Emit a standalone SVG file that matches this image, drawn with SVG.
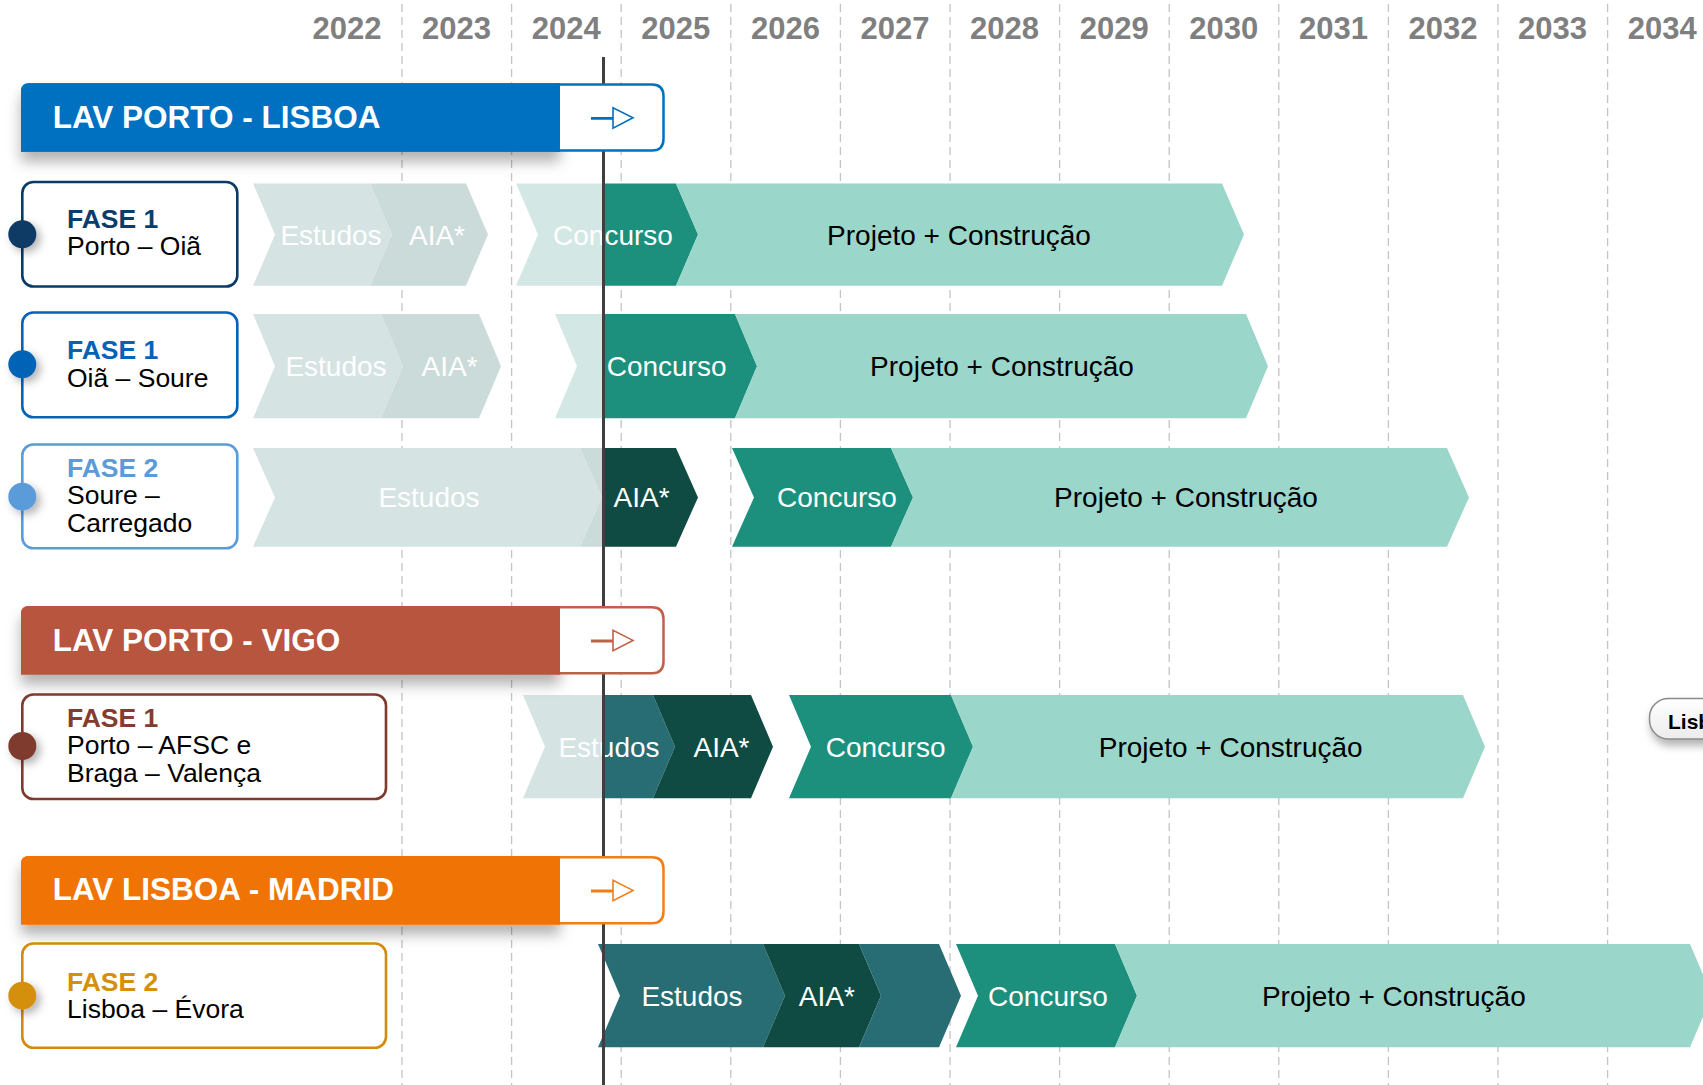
<svg xmlns="http://www.w3.org/2000/svg" width="1703" height="1085" viewBox="0 0 1703 1085">
<style>
text{font-family:"Liberation Sans",Arial,sans-serif}
.yr{font-size:31px;font-weight:bold;fill:#7f7f7f;text-anchor:middle}
.hd{font-size:31.5px;font-weight:bold;fill:#fff}
.fb{font-size:26.5px;font-weight:bold}
.fr{font-size:26.5px;fill:#000}
.cl{font-size:28px;text-anchor:middle;fill:#fff}
.cd{font-size:28px;text-anchor:middle;fill:#000}
.grid{stroke:#c4c4c4;stroke-width:1.3;stroke-dasharray:8 5}
.box{fill:#fff;stroke-width:2.6}
.arr{fill:none;stroke-width:1.6;stroke-linejoin:miter}
.g1{fill:#d5e3e3}.g2{fill:#cbdbda}.gl{fill:#d3e8e5}
.cc{fill:#1c907d}.pj{fill:#9bd6cb}.ai{fill:#0f4b43}.es{fill:#286c74}
</style>
<defs>
<filter id="sh" x="-10%" y="-30%" width="125%" height="190%">
<feDropShadow dx="0" dy="10" stdDeviation="7" flood-color="#000" flood-opacity="0.3"/>
</filter>
<filter id="dsh" x="-60%" y="-60%" width="250%" height="250%">
<feDropShadow dx="4" dy="4" stdDeviation="4" flood-color="#000" flood-opacity="0.3"/>
</filter>
<filter id="psh" x="-20%" y="-30%" width="150%" height="190%">
<feDropShadow dx="2" dy="6" stdDeviation="4" flood-color="#000" flood-opacity="0.3"/>
</filter>
<linearGradient id="pg" x1="0" y1="0" x2="0" y2="1">
<stop offset="0" stop-color="#ffffff"/><stop offset="1" stop-color="#ececec"/>
</linearGradient>
</defs>
<rect width="1703" height="1085" fill="#fff"/>

<g id="years">
<text class="yr" x="347" y="38.5">2022</text>
<text class="yr" x="456.6" y="38.5">2023</text>
<text class="yr" x="566.2" y="38.5">2024</text>
<text class="yr" x="675.8" y="38.5">2025</text>
<text class="yr" x="785.4" y="38.5">2026</text>
<text class="yr" x="895" y="38.5">2027</text>
<text class="yr" x="1004.6" y="38.5">2028</text>
<text class="yr" x="1114.2" y="38.5">2029</text>
<text class="yr" x="1223.8" y="38.5">2030</text>
<text class="yr" x="1333.4" y="38.5">2031</text>
<text class="yr" x="1443" y="38.5">2032</text>
<text class="yr" x="1552.6" y="38.5">2033</text>
<text class="yr" x="1662.2" y="38.5">2034</text>
</g>

<g id="grid">
<line class="grid" x1="402" y1="4" x2="402" y2="1085"/>
<line class="grid" x1="511.6" y1="4" x2="511.6" y2="1085"/>
<line class="grid" x1="621.2" y1="4" x2="621.2" y2="1085"/>
<line class="grid" x1="730.8" y1="4" x2="730.8" y2="1085"/>
<line class="grid" x1="840.4" y1="4" x2="840.4" y2="1085"/>
<line class="grid" x1="950" y1="4" x2="950" y2="1085"/>
<line class="grid" x1="1059.6" y1="4" x2="1059.6" y2="1085"/>
<line class="grid" x1="1169.2" y1="4" x2="1169.2" y2="1085"/>
<line class="grid" x1="1278.8" y1="4" x2="1278.8" y2="1085"/>
<line class="grid" x1="1388.4" y1="4" x2="1388.4" y2="1085"/>
<line class="grid" x1="1498" y1="4" x2="1498" y2="1085"/>
<line class="grid" x1="1607.6" y1="4" x2="1607.6" y2="1085"/>
</g>

<g id="row-porto-oia">
<polygon class="g1" points="253,183.5 370,183.5 392,234.6 370,285.7 253,285.7 275,234.6"/>
<polygon class="g2" points="370,183.5 466,183.5 488,234.6 466,285.7 370,285.7 392,234.6"/>
<polygon class="gl" points="516,183.5 603.5,183.5 603.5,285.7 516,285.7 538,234.6"/>
<polygon class="cc" points="603.5,183.5 676,183.5 698,234.6 676,285.7 603.5,285.7"/>
<polygon class="pj" points="676,183.5 1222,183.5 1244,234.6 1222,285.7 676,285.7 698,234.6"/>
<text class="cl" x="331" y="244.6">Estudos</text>
<text class="cl" x="437" y="244.6">AIA*</text>
<text class="cl" x="613" y="244.6">Concurso</text>
<text class="cd" x="959" y="244.6">Projeto + Construção</text>
</g>

<g id="row-oia-soure">
<polygon class="g1" points="253,314 381,314 403,366.2 381,418.3 253,418.3 275,366.2"/>
<polygon class="g2" points="381,314 479,314 501,366.2 479,418.3 381,418.3 403,366.2"/>
<polygon class="gl" points="555,314 603.5,314 603.5,418.3 555,418.3 577,366.2"/>
<polygon class="cc" points="603.5,314 735,314 757,366.2 735,418.3 603.5,418.3"/>
<polygon class="pj" points="735,314 1246,314 1268,366.2 1246,418.3 735,418.3 757,366.2"/>
<text class="cl" x="336" y="376.2">Estudos</text>
<text class="cl" x="449.6" y="376.2">AIA*</text>
<text class="cl" x="666.6" y="376.2">Concurso</text>
<text class="cd" x="1002" y="376.2">Projeto + Construção</text>
</g>

<g id="row-soure-carregado">
<polygon class="g1" points="253,448 580,448 602,497.4 580,546.7 253,546.7 275,497.4"/>
<polygon class="g2" points="580,448 603.5,448 603.5,546.7 580,546.7 602,497.4"/>
<polygon class="ai" points="603.5,448 676,448 698,497.4 676,546.7 603.5,546.7"/>
<polygon class="cc" points="732,448 891,448 913,497.4 891,546.7 732,546.7 754,497.4"/>
<polygon class="pj" points="891,448 1447,448 1469,497.4 1447,546.7 891,546.7 913,497.4"/>
<text class="cl" x="429" y="507.4">Estudos</text>
<text class="cl" x="641.6" y="507.4">AIA*</text>
<text class="cl" x="837" y="507.4">Concurso</text>
<text class="cd" x="1186" y="507.4">Projeto + Construção</text>
</g>

<g id="row-porto-vigo">
<polygon class="g1" points="523,695 603.5,695 603.5,798.3 523,798.3 545,746.7"/>
<polygon class="es" points="603.5,695 653,695 675,746.7 653,798.3 603.5,798.3"/>
<polygon class="ai" points="653,695 751,695 773,746.7 751,798.3 653,798.3 675,746.7"/>
<polygon class="cc" points="789,695 951,695 973,746.7 951,798.3 789,798.3 811,746.7"/>
<polygon class="pj" points="951,695 1463,695 1485,746.7 1463,798.3 951,798.3 973,746.7"/>
<text class="cl" x="609" y="756.7">Estudos</text>
<text class="cl" x="721.5" y="756.7">AIA*</text>
<text class="cl" x="885.6" y="756.7">Concurso</text>
<text class="cd" x="1230.7" y="756.7">Projeto + Construção</text>
</g>

<g id="row-lisboa-evora">
<polygon class="es" points="598,944 763,944 785,995.7 763,1047.3 598,1047.3 620,995.7"/>
<polygon class="ai" points="763,944 859,944 881,995.7 859,1047.3 763,1047.3 785,995.7"/>
<polygon class="es" points="859,944 939,944 961,995.7 939,1047.3 859,1047.3 881,995.7"/>
<polygon class="cc" points="956,944 1115,944 1137,995.7 1115,1047.3 956,1047.3 978,995.7"/>
<polygon class="pj" points="1115,944 1690,944 1712,995.7 1690,1047.3 1115,1047.3 1137,995.7"/>
<text class="cl" x="692" y="1005.7">Estudos</text>
<text class="cl" x="826.8" y="1005.7">AIA*</text>
<text class="cl" x="1048" y="1005.7">Concurso</text>
<text class="cd" x="1393.8" y="1005.7">Projeto + Construção</text>
</g>

<g id="now-line">
<line x1="603.5" y1="57" x2="603.5" y2="1085" stroke="#3f3f3f" stroke-width="3"/>
</g>

<g id="header-porto-lisboa" transform="translate(0,83.3)">
<path d="M21,68.4 V8 Q21,0 29,0 H560 V68.4 Z" fill="#0070c0" filter="url(#sh)"/>
<path d="M558,1.2 H652 Q663.5,1.2 663.5,13 V55.4 Q663.5,67.2 652,67.2 H558 Z" fill="#fff" stroke="#0070c0" stroke-width="2.5"/>
<path d="M21,68.4 V8 Q21,0 29,0 H560 V68.4 Z" fill="#0070c0"/>
<path class="arr" stroke="#0070c0" d="M591,34.4 H613 V24.4 L633,34.4 L613,44.8 V35.6 H591"/>
<text class="hd" x="52.7" y="44.4">LAV PORTO - LISBOA</text>
</g>

<g id="header-porto-vigo" transform="translate(0,606)">
<path d="M21,68.4 V8 Q21,0 29,0 H560 V68.4 Z" fill="#b7553f" filter="url(#sh)"/>
<path d="M558,1.2 H652 Q663.5,1.2 663.5,13 V55.4 Q663.5,67.2 652,67.2 H558 Z" fill="#fff" stroke="#c0604a" stroke-width="2.5"/>
<path d="M21,68.4 V8 Q21,0 29,0 H560 V68.4 Z" fill="#b7553f"/>
<path class="arr" stroke="#c0604a" d="M591,34.4 H613 V24.4 L633,34.4 L613,44.8 V35.6 H591"/>
<text class="hd" x="52.7" y="44.6">LAV PORTO - VIGO</text>
</g>

<g id="header-lisboa-madrid" transform="translate(0,856)">
<path d="M21,68.4 V8 Q21,0 29,0 H560 V68.4 Z" fill="#f07306" filter="url(#sh)"/>
<path d="M558,1.2 H652 Q663.5,1.2 663.5,13 V55.4 Q663.5,67.2 652,67.2 H558 Z" fill="#fff" stroke="#f07f1a" stroke-width="2.5"/>
<path d="M21,68.4 V8 Q21,0 29,0 H560 V68.4 Z" fill="#f07306"/>
<path class="arr" stroke="#f07f1a" d="M591,34.4 H613 V24.4 L633,34.4 L613,44.8 V35.6 H591"/>
<text class="hd" x="52.7" y="44.2">LAV LISBOA - MADRID</text>
</g>

<g id="fase1-porto-oia">
<rect class="box" x="22.3" y="182" width="215" height="104.5" rx="11" stroke="#0b3a66"/>
<circle cx="22.3" cy="234.3" r="14" fill="#0b3a66" filter="url(#dsh)"/>
<text class="fb" x="67" y="228.3" fill="#0b3d6b">FASE 1</text>
<text class="fr" x="67" y="255">Porto – Oiã</text>
</g>

<g id="fase1-oia-soure">
<rect class="box" x="22.3" y="312.5" width="215" height="104.7" rx="11" stroke="#0563b5"/>
<circle cx="22.3" cy="364.3" r="14" fill="#0563b5" filter="url(#dsh)"/>
<text class="fb" x="67" y="358.6" fill="#0563b5">FASE 1</text>
<text class="fr" x="67" y="386.7">Oiã – Soure</text>
</g>

<g id="fase2-soure-carregado">
<rect class="box" x="22.3" y="444.5" width="215" height="103.8" rx="11" stroke="#5b9bd9"/>
<circle cx="22.3" cy="496.7" r="14" fill="#5b9bd9" filter="url(#dsh)"/>
<text class="fb" x="67" y="476.7" fill="#5b9bd9">FASE 2</text>
<text class="fr" x="67" y="504">Soure –</text>
<text class="fr" x="67" y="531.7">Carregado</text>
</g>

<g id="fase1-porto-afsc-braga-valenca">
<rect class="box" x="22.3" y="694.5" width="363.7" height="104.5" rx="11" stroke="#7f3a2e"/>
<circle cx="22.3" cy="746" r="14" fill="#7f3a2e" filter="url(#dsh)"/>
<text class="fb" x="67" y="726.7" fill="#843c30">FASE 1</text>
<text class="fr" x="67" y="754">Porto – AFSC e</text>
<text class="fr" x="67" y="781.7">Braga – Valença</text>
</g>

<g id="fase2-lisboa-evora">
<rect class="box" x="22.3" y="943.5" width="363.7" height="104.2" rx="11" stroke="#d48a0a"/>
<circle cx="22.3" cy="995.7" r="14" fill="#d4900c" filter="url(#dsh)"/>
<text class="fb" x="67" y="990.7" fill="#d4900c">FASE 2</text>
<text class="fr" x="67" y="1018.3">Lisboa – Évora</text>
</g>

<g id="pill-lisb">
<rect x="1649.5" y="698.5" width="90" height="40.5" rx="19" fill="url(#pg)" stroke="#8a8a8a" stroke-width="1.5" filter="url(#psh)"/>
<text x="1668" y="729" font-size="21" font-weight="bold" fill="#000">Lisb</text>
</g>
</svg>
